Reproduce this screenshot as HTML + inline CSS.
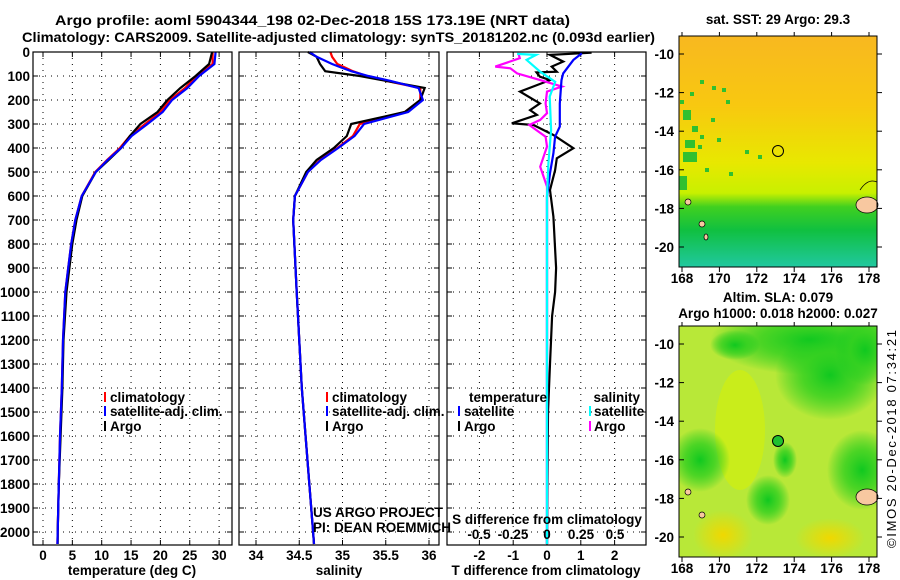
<!DOCTYPE html>
<html><head><meta charset="utf-8">
<style>
body{margin:0;background:#fff;}
svg{display:block;font-family:"Liberation Sans",sans-serif;}
.t{font-weight:bold;font-size:13.5px;fill:#000;}
.g{stroke:#000;stroke-width:1;stroke-dasharray:1,5;}
</style></head>
<body>
<svg id="c" width="900" height="580" viewBox="0 0 900 580">
<defs>
<linearGradient id="sst" x1="0" y1="0" x2="0" y2="1">
<stop offset="0" stop-color="#f8b820"/><stop offset="0.3" stop-color="#f8c810"/>
<stop offset="0.55" stop-color="#e8e800"/><stop offset="0.68" stop-color="#c8f000"/>
<stop offset="0.74" stop-color="#40d020"/><stop offset="0.84" stop-color="#10c040"/>
<stop offset="1" stop-color="#20c8a0"/></linearGradient>
<radialGradient id="gb"><stop offset="0" stop-color="#10c820"/><stop offset="0.5" stop-color="#30d020" stop-opacity="0.8"/><stop offset="1" stop-color="#10c820" stop-opacity="0"/></radialGradient>
<radialGradient id="yb"><stop offset="0" stop-color="#f0d800"/><stop offset="1" stop-color="#f0d800" stop-opacity="0"/></radialGradient>
<clipPath id="m2c"><rect x="679" y="326" width="198" height="231"/></clipPath>
<clipPath id="m1c"><rect x="679" y="36" width="198" height="231"/></clipPath>
</defs>
<text class="t" x="55" y="25" font-size="15" textLength="515" lengthAdjust="spacingAndGlyphs">Argo profile: aoml 5904344_198 02-Dec-2018 15S 173.19E (NRT data)</text>
<text class="t" x="22" y="42" font-size="15" textLength="633" lengthAdjust="spacingAndGlyphs">Climatology: CARS2009. Satellite-adjusted climatology: synTS_20181202.nc (0.093d earlier)</text>
<g id="panels"></g>
<g id="maps">
<g>
<rect x="679" y="36" width="198" height="231" fill="url(#sst)"/>
<g clip-path="url(#m1c)" fill="#30c030">
<rect x="700" y="80" width="4" height="4"/><rect x="690" y="92" width="4" height="4"/><rect x="712" y="86" width="4" height="4"/><rect x="722" y="88" width="4" height="4"/>
<rect x="683" y="110" width="8" height="10"/><rect x="692" y="126" width="6" height="6"/><rect x="685" y="140" width="10" height="8"/>
<rect x="683" y="152" width="14" height="10"/><rect x="700" y="135" width="4" height="4"/><rect x="717" y="138" width="4" height="4"/>
<rect x="729" y="172" width="4" height="4"/><rect x="758" y="155" width="4" height="4"/><rect x="705" y="168" width="4" height="4"/>
<rect x="679" y="176" width="8" height="14"/><rect x="680" y="100" width="4" height="4"/><rect x="726" y="100" width="4" height="4"/>
<rect x="745" y="150" width="4" height="4"/><rect x="711" y="118" width="4" height="4"/><rect x="698" y="145" width="4" height="4"/>
</g>
<circle cx="778" cy="151" r="5.5" fill="none" stroke="#000"/>
<ellipse cx="867" cy="205" rx="11" ry="8" fill="#f8c8a0" stroke="#000" stroke-width="0.7"/>
<path d="M860 190 Q868 178 877 182" fill="none" stroke="#000" stroke-width="0.7"/>
<ellipse cx="688" cy="202" rx="3" ry="3" fill="#f8c8a0" stroke="#000" stroke-width="0.7"/>
<ellipse cx="702" cy="224" rx="3" ry="3" fill="#f8c8a0" stroke="#000" stroke-width="0.7"/>
<ellipse cx="706" cy="237" rx="2" ry="3" fill="#f8c8a0" stroke="#000" stroke-width="0.7"/>
<rect x="679" y="36" width="198" height="231" fill="none" stroke="#000"/>
<text class="t" x="778" y="24" text-anchor="middle">sat. SST: 29 Argo: 29.3</text>
</g>
<g>
<rect x="679" y="326" width="198" height="231" fill="#b8e838"/>
<g clip-path="url(#m2c)">
<ellipse cx="740" cy="430" rx="25" ry="60" fill="#d0f010" opacity="0.7"/>
<ellipse cx="810" cy="340" rx="100" ry="35" fill="url(#gb)"/>
<ellipse cx="830" cy="375" rx="55" ry="45" fill="url(#gb)"/>
<ellipse cx="865" cy="350" rx="30" ry="35" fill="url(#gb)"/>
<ellipse cx="700" cy="460" rx="30" ry="32" fill="url(#gb)"/>
<ellipse cx="862" cy="470" rx="35" ry="40" fill="url(#gb)"/>
<ellipse cx="768" cy="500" rx="22" ry="25" fill="url(#gb)"/>
<ellipse cx="785" cy="460" rx="12" ry="18" fill="url(#gb)"/>
<ellipse cx="735" cy="345" rx="25" ry="15" fill="url(#gb)"/>
<ellipse cx="723" cy="535" rx="30" ry="25" fill="url(#yb)"/>
<ellipse cx="830" cy="538" rx="35" ry="20" fill="url(#yb)"/>
</g>
<circle cx="778" cy="441" r="5.5" fill="#20c030" stroke="#000"/>
<ellipse cx="867" cy="497" rx="11" ry="8" fill="#f8c8a0" stroke="#000" stroke-width="0.7"/>
<ellipse cx="688" cy="492" rx="3" ry="3" fill="#f8c8a0" stroke="#000" stroke-width="0.7"/>
<ellipse cx="702" cy="515" rx="3" ry="3" fill="#f8c8a0" stroke="#000" stroke-width="0.7"/>
<rect x="679" y="326" width="198" height="231" fill="none" stroke="#000"/>
<text class="t" x="778" y="302" text-anchor="middle">Altim. SLA: 0.079</text>
<text class="t" x="778" y="318" text-anchor="middle">Argo h1000: 0.018 h2000: 0.027</text>
</g>
<text x="896" y="548" font-size="13" textLength="218" transform="rotate(-90 896 548)">©IMOS 20-Dec-2018 07:34:21</text>
</g>
</svg>
<script>
// ---- data ----
const depths = [0,50,100,150,200,250,300,350,400,450,500,600,700,800,900,1000,1200,1400,1600,1800,2000,2050];
const tempClim = [28.9,28.9,26.2,24.2,21.6,20,17.4,14.8,13.1,10.9,8.9,6.6,5.5,4.8,4.3,3.8,3.4,3.2,2.9,2.7,2.5,2.45];
const tempSat  = [29.4,29.2,26.6,24.6,22,20.4,17.8,15.1,13.3,11,9,6.6,5.5,4.8,4.3,3.8,3.4,3.2,2.9,2.7,2.5,2.45];
const tempArgo = [28.8,28.3,26,23.4,21.2,19.5,16.6,14.8,13.3,11.2,9,6.7,5.7,5.0,4.5,4.0,3.5,3.3,3.0,2.7,2.5,2.5];
const salDepths = [0,20,50,60,80,100,120,150,200,250,300,350,400,450,500,600,700,1000,1400,2000,2050];
const salClim = [34.86,34.88,34.94,35.0,35.12,35.28,35.5,35.9,35.9,35.72,35.2,35.12,34.94,34.74,34.6,34.45,34.43,34.47,34.53,34.66,34.67];
const salSat  = [34.62,34.7,34.88,34.95,35.1,35.3,35.55,35.88,35.93,35.76,35.25,35.14,34.95,34.75,34.6,34.45,34.43,34.47,34.53,34.66,34.67];
const salArgo = [34.6,34.7,34.74,34.76,34.8,35.2,35.5,35.95,35.9,35.72,35.1,35.05,34.9,34.7,34.58,34.45,34.43,34.47,34.53,34.66,34.67];
const tdArgoDepth = [3,12,40,61,82,85,103,117,165,214,242,262,297,304,346,401,443,492,575,686,900,1000,1100,1300,1500,2050];
const tdArgo = [1.32,0.09,0.48,0.14,0.29,-0.31,-0.21,0.09,-0.8,-0.21,-0.5,-0.3,-1.04,-0.4,0.19,0.78,0.29,0.24,0.09,0.19,0.27,0.24,0.15,0.09,0.03,0];
const tdSatDepth = [6,33,89,117,214,311,353,422,505,603,2050];
const tdSat = [1.03,0.78,0.48,0.43,0.38,0.38,0.24,0.19,0.09,0,0];
const sdArgoDepth = [6,26,61,68,89,117,144,165,214,255,283,304,353,394,478,561,2050];
const sdArgo = [-0.21,-0.2,-0.38,-0.27,-0.22,-0.05,0.11,0,-0.01,0,-0.05,-0.13,-0.01,0,-0.05,0,0];
const sdSatDepth = [8,12,33,82,124,186,325,464,600,2050];
const sdSat = [-0.22,-0.08,-0.15,-0.05,0.06,0.02,0.03,0.01,0,0];
const depthTicks = [0,100,200,300,400,500,600,700,800,900,1000,1100,1200,1300,1400,1500,1600,1700,1800,1900,2000];
const tempTicks = [0,5,10,15,20,25,30];
const salTicks = [34,34.5,35,35.5,36];
const tdTicks = [-2,-1,0,1,2];
const sdTicks = [-0.5,-0.25,0,0.25,0.5];
const sdTickLabels = ['-0.5','-0.25','0','0.25','0.5'];
const mapLatTicks = [-10,-12,-14,-16,-18,-20];
const mapLonTicks = [168,170,172,174,176,178];
// ---- axes ----
const NS='http://www.w3.org/2000/svg';
const yD = d => 52 + d*0.24;
const xT = v => 43 + v*5.87;
const xS = v => 256 + (v-34)*86.5;
const xTD = v => 547 + v*33.8;
const xSD = v => 547 + v*136;
const root = document.getElementById('panels');
function mk(tag, attrs, parent){const e=document.createElementNS(NS,tag);for(const k in attrs)e.setAttribute(k,attrs[k]);(parent||root).appendChild(e);return e;}
function txt(x,y,s,anchor,parent,cls){const e=mk('text',{x:x,y:y,'text-anchor':anchor||'middle','class':cls||'t'},parent);e.textContent=s;return e;}
const panels=[{x0:33,x1:232,name:'temperature-panel'},{x0:239,x1:439,name:'salinity-panel'},{x0:447,x1:646,name:'difference-panel'}];
const TOP=52,BOT=545;
panels.forEach((p,i)=>{
  const g=mk('g',{});
  
  
  p.g=g;
  depthTicks.forEach(d=>{const y=yD(d);mk('line',{x1:p.x0,x2:p.x1,y1:y,y2:y,'class':'g'},g);mk('line',{x1:p.x0,x2:p.x0+5,y1:y,y2:y,stroke:'#000'},g);mk('line',{x1:p.x1-5,x2:p.x1,y1:y,y2:y,stroke:'#000'},g);});
});
depthTicks.forEach(d=>{const l=txt(30,yD(d)+5,String(d),'end');
  
  });
function xgrid(p,ticks,fx,labels,ly){ticks.forEach((v,k)=>{const x=fx(v);mk('line',{x1:x,x2:x,y1:TOP,y2:BOT,'class':'g'},p.g);mk('line',{x1:x,x2:x,y1:BOT-5,y2:BOT,stroke:'#000'},p.g);mk('line',{x1:x,x2:x,y1:TOP,y2:TOP+5,stroke:'#000'},p.g);
  if(labels){const l=txt(x,ly,labels[k]);
  }});}
xgrid(panels[0],tempTicks,xT,tempTicks.map(String),560);
xgrid(panels[1],salTicks,xS,salTicks.map(String),560);
xgrid(panels[2],tdTicks,xTD,tdTicks.map(String),560);
sdTicks.forEach((v,k)=>{const l=txt(xSD(v),539,sdTickLabels[k]);
  
  });
function line(p,xs,ds,fx,color,nm){const pts=xs.map((v,k)=>fx(v).toFixed(1)+','+Math.min(BOT,yD(ds[k])).toFixed(1)).join(' ');
  const e=mk('polyline',{points:pts,fill:'none',stroke:color,'stroke-width':2.2},p.g);
  
  }
line(panels[0],tempClim,depths,xT,'#f00','temp-climatology-line');
line(panels[0],tempArgo,depths,xT,'#000','temp-argo-line');
line(panels[0],tempSat,depths,xT,'#00f','temp-satellite-line');
line(panels[1],salClim,salDepths,xS,'#f00','sal-climatology-line');
line(panels[1],salArgo,salDepths,xS,'#000','sal-argo-line');
line(panels[1],salSat,salDepths,xS,'#00f','sal-satellite-line');
line(panels[2],tdArgo,tdArgoDepth,xTD,'#000','tdiff-argo-line');
line(panels[2],sdArgo,sdArgoDepth,xSD,'#f0f','sdiff-argo-line');
line(panels[2],tdSat,tdSatDepth,xTD,'#00f','tdiff-satellite-line');
line(panels[2],sdSat,sdSatDepth,xSD,'#0ff','sdiff-satellite-line');
panels.forEach(p=>mk('rect',{x:p.x0,y:TOP,width:p.x1-p.x0,height:BOT-TOP,fill:'none',stroke:'#000','stroke-width':1.2},p.g));
// legends
function leg(x,y,color,label,anchor){mk('line',{x1:x,x2:x,y1:y-10,y2:y,stroke:color,'stroke-width':2});const l=txt(anchor==='end'?x-4:x+5,y,label,anchor||'start');
  
  }
[[105,'temp'],[327,'sal']].forEach(([x])=>{leg(x,402,'#f00','climatology');leg(x,416,'#00f','satellite-adj. clim.');leg(x,431,'#000','Argo');});
txt(469,402,'temperature','start');txt(640,402,'salinity','end');
leg(459,416,'#00f','satellite');leg(459,431,'#000','Argo');
mk('line',{x1:590,x2:590,y1:406,y2:416,stroke:'#0ff','stroke-width':2});txt(594,416,'satellite','start');
mk('line',{x1:590,x2:590,y1:421,y2:431,stroke:'#f0f','stroke-width':2});txt(594,431,'Argo','start');
// axis titles
[[132,'temperature (deg C)'],[339,'salinity'],[546,'T difference from climatology']].forEach(([x,s])=>{const l=txt(x,575,s);
  
  });
const sdt=txt(547,524,'S difference from climatology');


const u1=txt(313,517,'US ARGO PROJECT','start',null,'');u1.setAttribute('font-size','12');


const u2=txt(313,532,'PI: DEAN ROEMMICH','start',null,'');u2.setAttribute('font-size','12');


// map ticks
const maps=document.getElementById('maps');
[[54,247],[344,537]].forEach(([y10,y20])=>{
  mapLatTicks.forEach(v=>{const y=y10+(-10-v)/10*(y20-y10);mk('line',{x1:877,x2:882,y1:y,y2:y,stroke:'#000'},maps);mk('line',{x1:679,x2:684,y1:y,y2:y,stroke:'#000'},maps);
    const l=txt(674,y+5,String(v),'end',maps);
    });
});
[[267,36,283],[557,326,573]].forEach(([yb,yt,ly])=>{
  mapLonTicks.forEach(v=>{const x=682+(v-168)/10*187;mk('line',{x1:x,x2:x,y1:yb,y2:yb+5,stroke:'#000'},maps);mk('line',{x1:x,x2:x,y1:yt-4,y2:yt,stroke:'#000'},maps);
    const l=txt(x,ly,String(v),'middle',maps);
    });
});
</script>
</body></html>
